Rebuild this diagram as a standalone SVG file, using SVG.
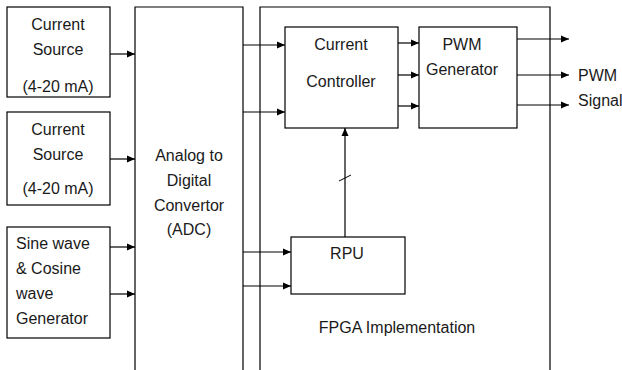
<svg xmlns="http://www.w3.org/2000/svg" width="622" height="370" viewBox="0 0 622 370">
<defs>
<marker id="ah" markerWidth="8" markerHeight="8" refX="8" refY="4" orient="auto" markerUnits="userSpaceOnUse"><path d="M0,0.5 L8,4 L0,7.5 Z" fill="#000"/></marker>
<style>
.b{fill:#fff;stroke:#000;stroke-width:1.2}
.t{font-family:"Liberation Sans",Arial,sans-serif;font-size:16px;fill:#1a1a1a}
.c{text-anchor:middle}
.l{stroke:#000;stroke-width:1.2;fill:none;marker-end:url(#ah)}
</style>
</defs>
<rect width="622" height="370" fill="#fff"/>
<g id="fpga"><path class="b" d="M260,371 V7 H550 V371"/><text class="t c" x="397" y="333">FPGA Implementation</text></g>
<g id="cs1"><rect class="b" x="7" y="7" width="103" height="90"/><text class="t c" x="58" y="30">Current</text><text class="t c" x="58" y="55">Source</text><text class="t c" x="58" y="92">(4-20 mA)</text></g>
<g id="cs2"><rect class="b" x="7" y="112" width="103" height="93"/><text class="t c" x="58" y="135">Current</text><text class="t c" x="58" y="160">Source</text><text class="t c" x="58" y="194">(4-20 mA)</text></g>
<g id="sine"><rect class="b" x="7" y="227" width="103" height="111"/><text class="t" x="16" y="249">Sine wave</text><text class="t" x="16" y="274">&amp; Cosine</text><text class="t" x="16" y="299">wave</text><text class="t" x="16" y="324">Generator</text></g>
<g id="adc"><path class="b" d="M135,371 V7 H243 V371"/><text class="t c" x="189" y="161">Analog to</text><text class="t c" x="189" y="186">Digital</text><text class="t c" x="189" y="211">Convertor</text><text class="t c" x="189" y="235">(ADC)</text></g>
<g id="cc"><rect class="b" x="285" y="27" width="113" height="101"/><text class="t c" x="341" y="50">Current</text><text class="t c" x="341" y="87">Controller</text></g>
<g id="pwm"><rect class="b" x="419" y="27" width="98" height="101"/><text class="t c" x="462" y="50">PWM</text><text class="t c" x="462" y="75">Generator</text></g>
<g id="rpu"><rect class="b" x="291" y="237" width="114" height="57"/><text class="t c" x="347" y="259">RPU</text></g>
<g id="out"><text class="t" x="578" y="81">PWM</text><text class="t" x="578" y="106">Signal</text></g>
<g id="connectors">
<path class="l" d="M110,54 H135"/>
<path class="l" d="M110,159 H135"/>
<path class="l" d="M110,247 H135"/>
<path class="l" d="M110,294 H135"/>
<path class="l" d="M243,45 H285"/>
<path class="l" d="M243,112 H285"/>
<path class="l" d="M243,252 H291"/>
<path class="l" d="M243,286 H291"/>
<path class="l" d="M398,43 H419"/>
<path class="l" d="M398,75 H419"/>
<path class="l" d="M398,106 H419"/>
<path class="l" d="M517,39 H569"/>
<path class="l" d="M517,75 H569"/>
<path class="l" d="M517,105 H569"/>
<path class="l" d="M345,237 V128"/>
<path d="M339,181 L351,175" stroke="#000" stroke-width="1"/>
</g>
</svg>
